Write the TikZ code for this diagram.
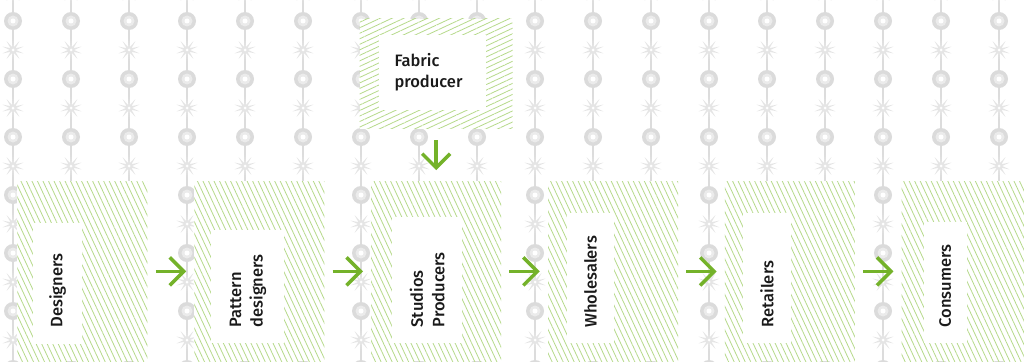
\documentclass[tikz,border=0pt]{standalone}
\usepackage{fontspec}
\setmainfont{Fira Sans}[BoldFont={Fira Sans Medium}]
\usepackage{tikz}
\usetikzlibrary{shapes.geometric,arrows.meta,positioning,patterns.meta}
\usepackage{xcolor}
\definecolor{hatch}{HTML}{B6DA8A}
\definecolor{flowgreen}{HTML}{74B22A}
\definecolor{rail}{HTML}{DCDCDC}
\definecolor{ink}{HTML}{1A1A1A}

\begin{document}
\begin{tikzpicture}[
  x=1pt, y=-1pt,
  font=\fontsize{16.5}{21.5}\selectfont\bfseries,
  stage/.style={minimum width=130pt,minimum height=180pt,inner sep=0pt,
    preaction={fill=white},
    pattern={Lines[angle=-65,distance=5pt,line width=0.8pt]},pattern color=hatch},
  source/.style={minimum width=153pt,minimum height=110pt,inner sep=0pt,
    preaction={fill=white},
    pattern={Lines[angle=25,distance=5pt,line width=0.8pt]},pattern color=hatch},
  panel/.style={fill=white,rotate=90,anchor=north west,align=left,
    inner xsep=16pt,inner ysep=0pt,text=ink},
  flow/.style={-{Straight Barb[length=14pt,width=28pt]},line width=3.5pt,
    color=flowgreen,shorten <=8pt,shorten >=8pt},
  railline/.style={rail,line width=1.5pt},
  spark/.style={star,star points=10,star point ratio=3.5,minimum size=22pt,
    inner sep=0pt,fill=black!10},
]
\useasboundingbox (0,0) rectangle (1024,361);
\fill[white] (0,0) rectangle (1024,361);

% background threads
\foreach \i in {0,...,17} {
  \draw[railline] (13+58*\i,-20) -- (13+58*\i,380);
  \foreach \j in {-1,...,6} {
    \node[spark] at (13+58*\i,50+58*\j) {};
    \fill[white] (13+58*\i,50+58*\j) circle (1.5);
    \fill[black!14] (13+58*\i,21+58*\j) circle (9);
    \fill[black!8] (13+58*\i,21+58*\j) circle (5.5);
    \fill[white] (13+58*\i,21+58*\j) circle (2.5);
  }
}

% supply chain
\node[stage,anchor=north west] (des) at (17,181) {};
\node[stage,right=46.4pt of des] (pat) {};
\node[stage,right=46.4pt of pat] (stu) {};
\node[stage,right=46.4pt of stu] (who) {};
\node[stage,right=46.4pt of who] (ret) {};
\node[stage,right=46.4pt of ret] (con) {};
\node[source,above=52pt of stu] (fab) {};

\node[panel,text width=89pt,minimum height=49pt] (desl)
  at ([shift={(16,-18)}]des.south west) {Designers};
\node[panel,text width=81pt,minimum height=73pt] (patl)
  at ([shift={(17,-18)}]pat.south west) {Pattern\\designers};
\node[panel,text width=94pt,minimum height=70pt] (stul)
  at ([shift={(21,-18)}]stu.south west) {Studios\\Producers};
\node[panel,text width=98pt,minimum height=47pt] (whol)
  at ([shift={(19,-18)}]who.south west) {Wholesalers};
\node[panel,text width=98pt,minimum height=48pt] (retl)
  at ([shift={(18,-18)}]ret.south west) {Retailers};
\node[panel,text width=89pt,minimum height=43pt] (conl)
  at ([shift={(22,-18)}]con.south west) {Consumers};
\node[fill=white,anchor=north west,align=left,text=ink,inner xsep=16pt,
  inner ysep=0pt,text width=75pt,minimum height=75pt] (fabl)
  at ([shift={(19,16)}]fab.north west) {Fabric\\producer};

\draw[flow] (des) -- (pat);
\draw[flow] (pat) -- (stu);
\draw[flow] (stu) -- (who);
\draw[flow] (who) -- (ret);
\draw[flow] (ret) -- (con);
\draw[flow,shorten <=11pt,shorten >=11pt] (fab) -- (stu);
\end{tikzpicture}
\end{document}
